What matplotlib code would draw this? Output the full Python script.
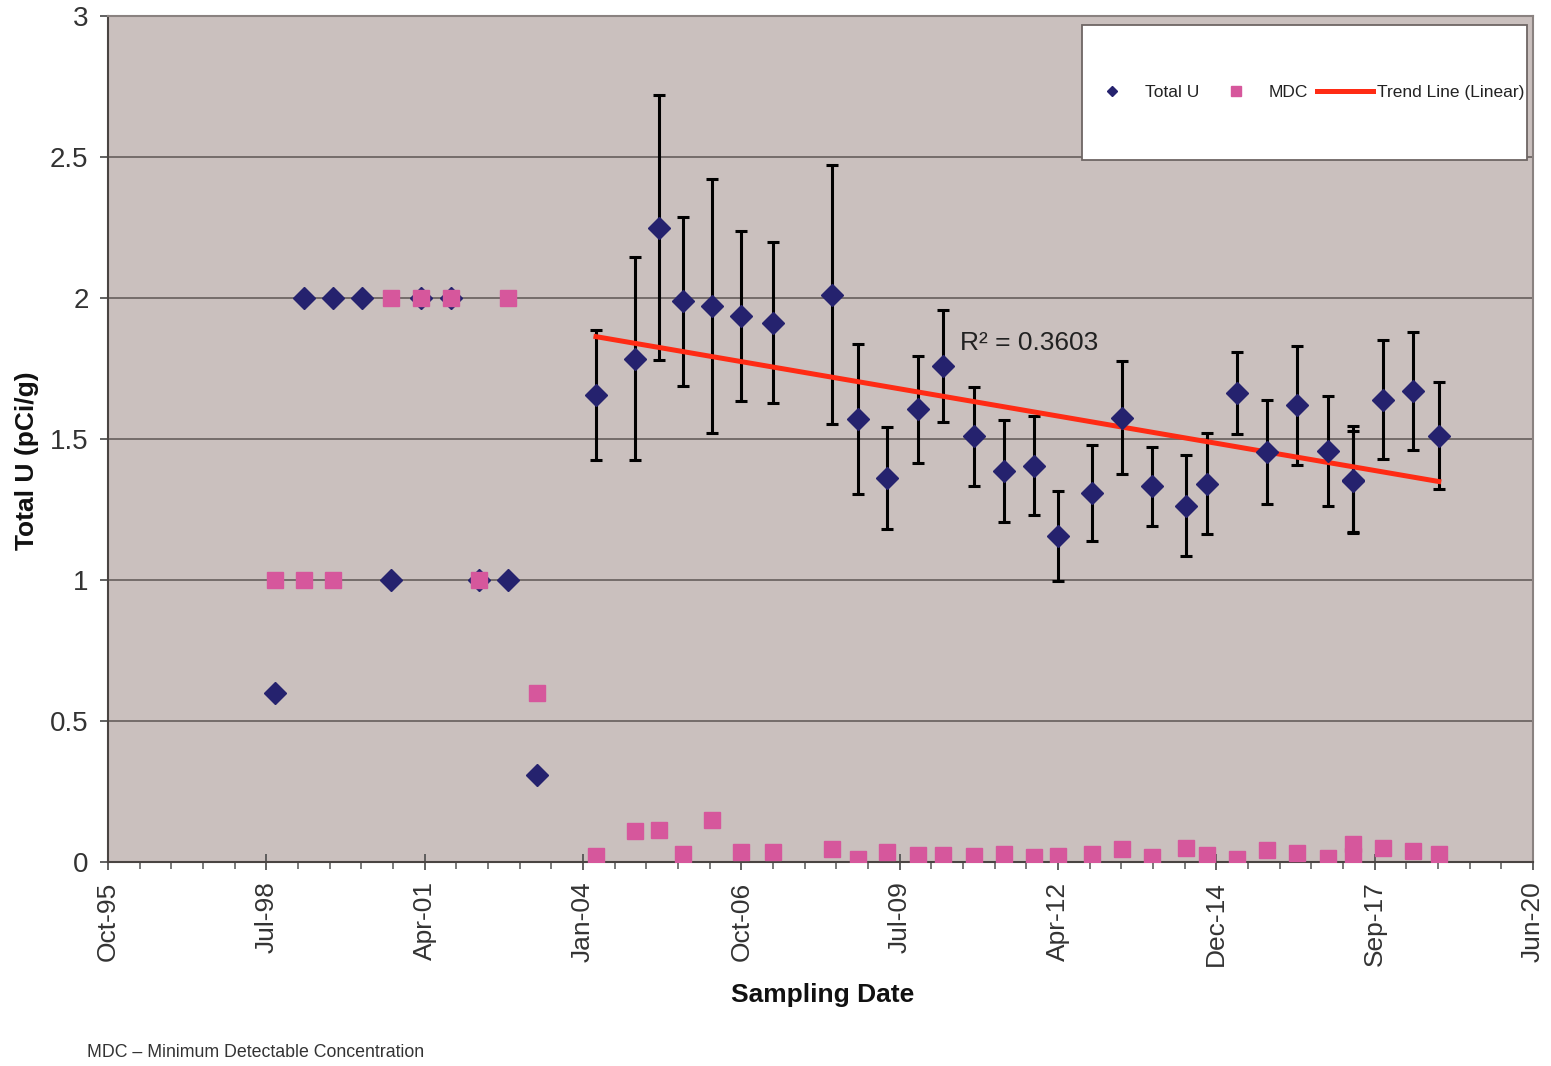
import numpy as np
import matplotlib
matplotlib.use('Agg')
import matplotlib.pyplot as plt
import matplotlib.dates as mdates
from matplotlib.lines import Line2D
from matplotlib.patches import Rectangle

plt.rcParams['font.family'] = ['Liberation Sans', 'DejaVu Sans']

# Excel-like date axis: first tick, then one tick every 1000 days
x_start = '1995-10-28'
tick_labels = ['Oct-95', 'Jul-98', 'Apr-01', 'Jan-04', 'Oct-06',
               'Jul-09', 'Apr-12', 'Dec-14', 'Sep-17', 'Jun-20']
y_tick_labels = ['0', '0.5', '1', '1.5', '2', '2.5', '3']

sample_dates = ['1998-09-15', '1999-03-20', '1999-09-20', '2000-03-20',
                '2000-09-20', '2001-03-30', '2001-10-01', '2002-03-28',
                '2002-09-27', '2003-03-29',
                '2004-04-05', '2004-12-07', '2005-05-08', '2005-10-07',
                '2006-04-08', '2006-10-08', '2007-04-28', '2008-05-05',
                '2008-10-16', '2009-04-17', '2009-10-30', '2010-04-06',
                '2010-10-18', '2011-04-25', '2011-11-01', '2012-04-01',
                '2012-11-02', '2013-05-10', '2013-11-16', '2014-06-18',
                '2014-10-29', '2015-05-07', '2015-11-12', '2016-05-20',
                '2016-12-01', '2017-05-08', '2017-05-08', '2017-11-14',
                '2018-05-22', '2018-11-01']

total_u = [0.6, 2.0, 2.0, 2.0, 1.0, 2.0, 2.0, 1.0, 1.0, 0.31,
           1.655, 1.784, 2.25, 1.989, 1.972, 1.936, 1.912, 2.012,
           1.571, 1.362, 1.606, 1.759, 1.509, 1.387, 1.406, 1.155,
           1.310, 1.576, 1.333, 1.264, 1.342, 1.662, 1.454, 1.619,
           1.457, 1.356, 1.350, 1.640, 1.670, 1.511]

# counting error (0 = no error reported)
u_err = [0, 0, 0, 0, 0, 0, 0, 0, 0, 0,
         0.23, 0.36, 0.47, 0.30, 0.45, 0.30, 0.285, 0.46,
         0.266, 0.18, 0.19, 0.20, 0.175, 0.18, 0.175, 0.16,
         0.17, 0.20, 0.14, 0.18, 0.18, 0.145, 0.185, 0.21,
         0.195, 0.19, 0.18, 0.21, 0.21, 0.19]

mdc = [1.0, 1.0, 1.0, np.nan, 2.0, 2.0, 2.0, 1.0, 2.0, 0.6,
       0.02, 0.11, 0.115, 0.03, 0.15, 0.035, 0.035, 0.045,
       0.01, 0.035, 0.025, 0.025, 0.02, 0.028, 0.018, 0.022,
       0.028, 0.045, 0.018, 0.05, 0.025, 0.01, 0.043, 0.033,
       0.013, 0.065, 0.02, 0.048, 0.038, 0.028]

r2_text = 'R\u00b2 = 0.3603'
trend_from = '2004-01-01'


def main():
    x = mdates.date2num(np.array(sample_dates, dtype='datetime64[D]'))
    u = np.array(total_u)
    err = np.array(u_err)
    m = np.array(mdc)
    x0 = mdates.date2num(np.datetime64(x_start))

    fig = plt.figure(figsize=(15.51, 10.66), dpi=100)
    ax = fig.add_axes([0.06963, 0.19137, 0.91876, 0.79362])
    ax.set_facecolor('#cac0be')

    ax.set_xlim(x0, x0 + 9000)
    ax.set_ylim(0, 3)

    ax.yaxis.grid(True, color='#6e6664', lw=1.3)
    ax.set_axisbelow(True)

    has_err = err > 0
    ax.errorbar(x[has_err], u[has_err], yerr=err[has_err], fmt='none',
                ecolor='black', elinewidth=2.2, capsize=4.5, capthick=2.2,
                zorder=3)

    # linear trend line over the post-2004 data
    post = x >= mdates.date2num(np.datetime64(trend_from))
    k, b = np.polyfit(x[post], u[post], 1)
    xs = np.array([x[post].min(), x[post].max()])
    ax.plot(xs, k * xs + b, color='#ff2b14', lw=3.6, zorder=4)

    ax.plot(x, u, 'D', color='#25226e', ms=11, zorder=5)
    ax.plot(x, m, 's', color='#d6579c', ms=11, zorder=6)

    ax.text(mdates.date2num(np.datetime64('2010-07-22')), 1.84, r2_text,
            fontsize=19, va='center', ha='left', color='#222222', zorder=7)

    ax.set_yticks(np.arange(0, 3.01, 0.5))
    ax.set_yticklabels(y_tick_labels)
    ax.tick_params(axis='y', length=6, width=1.3, pad=8, labelsize=20,
                   color='#555555', labelcolor='#333333')

    ax.set_xticks(x0 + 1000 * np.arange(10))
    ax.set_xticklabels(tick_labels, rotation=90)
    ax.set_xticks(x0 + 200 * np.arange(46), minor=True)
    ax.tick_params(axis='x', which='major', direction='inout', length=12,
                   width=1.3, pad=8, labelsize=19, color='#555555',
                   labelcolor='#333333')
    ax.tick_params(axis='x', which='minor', direction='out', length=5,
                   width=1.1, color='#555555')

    for side in ['left', 'bottom']:
        ax.spines[side].set_color('#4a4442')
        ax.spines[side].set_linewidth(1.5)
    for side in ['top', 'right']:
        ax.spines[side].set_color('#8a8280')
        ax.spines[side].set_linewidth(1.5)

    # legend box (white, top right)
    ax.add_patch(Rectangle((0.6835, 0.8298), 0.3123, 0.1596,
                           transform=ax.transAxes, facecolor='white',
                           edgecolor='#6e6664', lw=1.3, zorder=8))
    handles = [Line2D([], [], ls='none', marker='D', color='#25226e', ms=4.6),
               Line2D([], [], ls='none', marker='s', color='#d6579c', ms=6.5),
               Line2D([], [], color='#ff2b14', lw=3.6)]
    leg = ax.legend(handles, ['Total U', 'MDC', 'Trend Line (Linear)'],
                    loc='center', bbox_to_anchor=(0.8397, 0.9096),
                    frameon=False, ncol=3, fontsize=12.5, handlelength=3.2,
                    handletextpad=0.25, columnspacing=0.55,
                    labelcolor='#222222')
    leg.set_zorder(9)

    fig.text(0.0174, 0.5675, 'Total U (pCi/g)', rotation=90, fontsize=19,
             fontweight='bold', ha='center', va='center', color='#111111')
    fig.text(0.5306, 0.0666, 'Sampling Date', fontsize=19, fontweight='bold',
             ha='center', va='center', color='#111111')
    fig.text(0.0561, 0.0122, 'MDC \u2013 Minimum Detectable Concentration',
             fontsize=12.8, ha='left', va='center', color='#333333',
             family=['Liberation Sans Narrow', 'Liberation Sans'])

    fig.savefig('out.png', dpi=100, facecolor='white')


if __name__ == '__main__':
    main()
